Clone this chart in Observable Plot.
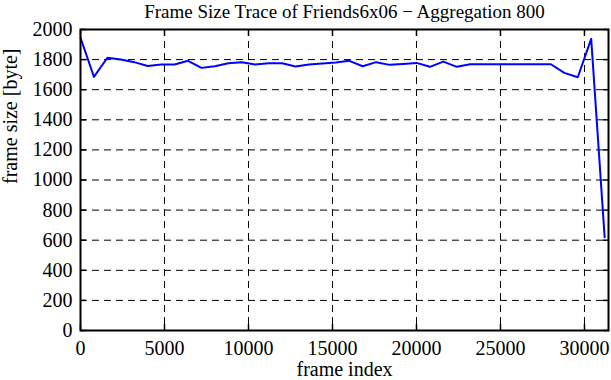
<!DOCTYPE html>
<html>
<head>
<meta charset="utf-8">
<script src="https://cdn.jsdelivr.net/npm/d3@7"></script>
<script src="https://cdn.jsdelivr.net/npm/@observablehq/plot@0.6"></script>
<style>
  html, body { margin: 0; padding: 0; background: #fff; }
  svg { display: block; }
  svg text { font-family: 'Liberation Serif', 'DejaVu Serif', serif !important; font-variant: normal !important; font-variant-numeric: normal !important; }
</style>
</head>
<body>
<div id="chart"></div>
<script>
const titleText = "Frame Size Trace of Friends6x06 \u2212 Aggregation 800";
const xLabel = "frame index";
const yLabel = "frame size [byte]";

const frameIndex = [0, 800, 1600, 2400, 3200, 4000, 4800, 5600, 6400, 7200,
  8000, 8800, 9600, 10400, 11200, 12000, 12800, 13600, 14400, 15200,
  16000, 16800, 17600, 18400, 19200, 20000, 20800, 21600, 22400, 23200,
  24000, 24800, 25600, 26400, 27200, 28000, 28800, 29600, 30400, 31200];
const frameSize = [1945, 1685, 1812, 1800, 1783, 1758, 1767, 1767, 1792, 1745,
  1756, 1776, 1783, 1767, 1776, 1776, 1754, 1767, 1774, 1780,
  1792, 1756, 1783, 1765, 1771, 1778, 1752, 1787, 1752, 1769,
  1769, 1769, 1769, 1769, 1769, 1769, 1712, 1683, 1938, 620];

const xTicks = [0, 5000, 10000, 15000, 20000, 25000, 30000];
const yTicks = [0, 200, 400, 600, 800, 1000, 1200, 1400, 1600, 1800, 2000];
const xGrid = [5000, 10000, 15000, 20000, 25000, 30000];
const yGrid = [200, 400, 600, 800, 1000, 1200, 1400, 1600, 1800];

const data = frameIndex.map((x, i) => ({x, y: frameSize[i]}));

const font = "Liberation Serif";
const fs = 20;
const fmt = d3.format("d");

const chart = Plot.plot({
  width: 611,
  height: 380,
  marginLeft: 80,
  marginRight: 3,
  marginTop: 29,
  marginBottom: 50,
  style: {fontFamily: font, fontSize: fs + "px", color: "#000", background: "#fff"},
  x: {domain: [0, 31430], ticks: xTicks, tickFormat: fmt},
  y: {domain: [0, 2000], ticks: yTicks, tickFormat: fmt},
  marks: [
    Plot.ruleY(yGrid, {stroke: "#000", strokeWidth: 1, strokeDasharray: "7,5"}),
    Plot.ruleX(xGrid, {stroke: "#000", strokeWidth: 1, strokeDasharray: "7,5"}),
    Plot.axisY(yTicks, {anchor: "left", tickSize: -6, tickPadding: 14, strokeWidth: 1.5, fontSize: fs, fontFamily: font, fontVariant: "normal", tickFormat: fmt, label: null}),
    Plot.axisY(yTicks, {anchor: "right", tickSize: -6, strokeWidth: 1.5, text: null, label: null}),
    Plot.axisX(xTicks, {anchor: "bottom", tickSize: -6, tickPadding: 16, strokeWidth: 1.5, fontSize: fs, fontFamily: font, fontVariant: "normal", tickFormat: fmt, label: null}),
    Plot.axisX(xTicks, {anchor: "top", tickSize: -6, strokeWidth: 1.5, text: null, label: null}),
    Plot.line(data, {x: "x", y: "y", stroke: "#0000ff", strokeWidth: 2}),
    Plot.frame({stroke: "#000", strokeWidth: 2}),
    Plot.text([titleText], {frameAnchor: "top", dy: -18, lineAnchor: "middle", fontSize: 19, fontFamily: font, fill: "#000", letterSpacing: "0.35px"}),
    Plot.text([xLabel], {frameAnchor: "bottom", dy: 39, lineAnchor: "middle", fontSize: fs, fontFamily: font, fill: "#000"}),
    Plot.text([yLabel], {frameAnchor: "left", dx: -70, dy: 4, rotate: -90, fontSize: fs, fontFamily: font, fill: "#000"})
  ]
});
document.getElementById("chart").appendChild(chart);
</script>
</body>
</html>
